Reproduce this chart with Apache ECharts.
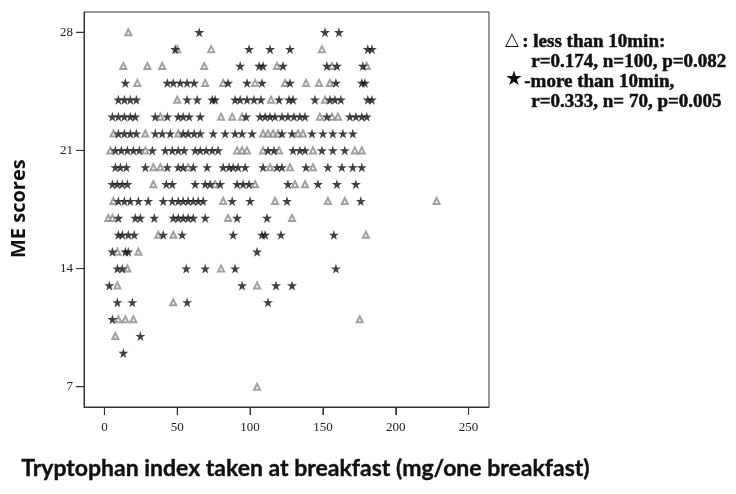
<!DOCTYPE html>
<html>
<head>
<meta charset="utf-8">
<script src="https://cdn.jsdelivr.net/npm/echarts@6.0.0/dist/echarts.min.js"></script>
<style>
  html, body { margin: 0; padding: 0; background: #fff; }
  #chart { width: 736px; height: 494px; }
</style>
</head>
<body>
<div id="chart"></div>
<script type="text/javascript">
// tryptophan index (x) per ME score (row)
var lessRows = [
    [28, [16.4]],
    [27, [50, 73.3, 149.3]],
    [26, [13, 29.5, 39.7, 68.5, 118.5, 156.2, 180.1]],
    [25, [22.6, 69.2, 81.5, 103.4, 124, 138.4, 147.3, 154.8]],
    [24, [50, 114.4, 151.4]],
    [23, [38.4, 80.1, 87.7, 94.5, 147.9, 156.2, 160.3]],
    [22, [6.2, 28.1, 50.7, 108.9, 112.3, 115.8, 119.2, 132.9, 136.3]],
    [21, [4.1, 28.1, 91.1, 94.5, 97.9, 108.9, 119.9, 143.2, 171.9, 176.7]],
    [20, [33.6, 38.4, 57.5, 113.7, 127.4, 143.2]],
    [19, [33.6, 76, 103.4, 130.8, 137.7]],
    [18, [6.2, 81.5, 117.1, 153.4, 165, 228]],
    [17, [2.7, 5.5, 84.9, 128.8]],
    [16, [37, 47.3, 179.5]],
    [15, [8.9, 23.3]],
    [14, [15.8, 80.1]],
    [13, [8.9, 104.8]],
    [12, [47.3]],
    [11, [9.6, 14.4, 19.9, 175.3]],
    [10, [7.5]],
    [7, [104.8]]
];
var moreRows = [
    [28, [65.1, 151.4, 161]],
    [27, [48.6, 99.3, 113.7, 127.4, 180.8, 183.6]],
    [26, [93.2, 106.2, 108.9, 122.6, 152.7, 159.6, 177.4]],
    [25, [14.4, 43.2, 47.3, 52.1, 56.8, 61.6, 84.9, 97.9, 108.2, 127.4, 158.9, 176.7, 178.8]],
    [24, [9.6, 13.7, 17.8, 21.9, 56.8, 63.7, 74, 76, 89.7, 93.2, 97.9, 102.7, 107.5, 119.9, 126.7, 129.5, 144.5, 154.8, 158.2, 162.3, 180.8, 183.6]],
    [23, [5.5, 9.6, 13.7, 17.8, 21.2, 34.9, 43.2, 50.7, 54.1, 58.2, 65.8, 97.3, 106.8, 110.3, 113.7, 117.1, 121.9, 126, 130.1, 134.2, 137.7, 152.7, 168.5, 172.6, 176.7, 180.1]],
    [22, [9.6, 13.7, 17.8, 21.9, 34.9, 39.7, 45.2, 54.1, 57.5, 61.6, 65.8, 74.7, 82.9, 89.7, 94.5, 101.4, 121.9, 128.8, 142.5, 150, 156.8, 163.7, 170.5]],
    [21, [7.5, 11.6, 15.8, 19.9, 24, 32.9, 41.8, 46.6, 50.7, 54.8, 62.3, 65.8, 69.9, 74, 78.1, 112.3, 116.4, 129.5, 134.2, 137.7, 149.3, 156.8, 165]],
    [20, [7.5, 11, 15.1, 28.1, 43.2, 50.7, 54.1, 61, 70.5, 81.5, 85.6, 88.4, 91.8, 96.6, 108.9, 118.5, 121.9, 138.4, 153.4, 163, 170.5, 176.7]],
    [19, [5.5, 8.9, 12.3, 15.8, 42.5, 46.6, 62.3, 69.2, 72.6, 79.5, 91.1, 95.2, 99.3, 126, 146.6, 159.6, 172.6]],
    [18, [9.6, 13.7, 17.8, 23.3, 30.1, 40.4, 46.6, 50.7, 54.1, 57.5, 61, 64.4, 67.8, 87.7, 100, 125.3, 176]],
    [17, [9.6, 21.2, 24.7, 34.2, 47.3, 50.7, 54.1, 57.5, 61, 69.2, 91.1, 111.6]],
    [16, [9.6, 12.3, 16.4, 20.5, 40.4, 53.4, 88.4, 108.2, 110.3, 121.2, 157.5]],
    [15, [5.5, 14.4, 16.4, 104.8]],
    [14, [8.9, 12.3, 56.2, 69.2, 89.7, 158.9]],
    [13, [3.4, 94.5, 117.8, 128.8]],
    [12, [8.9, 19.2, 56.8, 112.3]],
    [11, [5.5]],
    [10, [24.7]],
    [9, [13]]
];
var xTicks = [0, 50, 100, 150, 200, 250];
var yTicks = [7, 14, 21, 28];
var legendLines = [
    ': less than 10min:',
    'r=0.174, n=100, p=0.082',
    '-more than 10min,',
    'r=0.333, n= 70, p=0.005'
];

var xMin = -14, xMax = 264, yMin = 5.8, yMax = 29.2;

var toPoints = function(rows) {
    var pts = [];
    for (var i = 0; i < rows.length; i++) {
        var xs = rows[i][1];
        for (var j = 0; j < xs.length; j++) {
            pts.push([xs[j], rows[i][0]]);
        }
    }
    return pts;
};

// tick marks: [x, y, direction] -> 0 = x-axis tick, 1 = y-axis tick
var tickData = [];
for (var i = 0; i < xTicks.length; i++) tickData.push([xTicks[i], yMin, 0]);
for (var k = 0; k < yTicks.length; k++) tickData.push([xMin, yTicks[k], 1]);

var starPath = 'path://M50,0 L61,35 L98,35 L68,57 L79,91 L50,70 L21,91 L32,57 L2,35 L39,35 Z';
var legendFont = 'bold 19px "Liberation Serif"';
var legendStyle = function(txt) {
    return { text: txt, font: legendFont, fill: '#111', stroke: '#111', lineWidth: 0.5 };
};

var option = {
    grid: {
        left: 84, top: 12, right: 247, bottom: 87,
        show: true, borderColor: '#333', borderWidth: 1
    },
    xAxis: {
        type: 'value',
        min: xMin, max: xMax,
        splitLine: { show: false },
        axisLine: { show: true, onZero: false, lineStyle: { color: '#333' } },
        axisTick: { show: true, length: 8, lineStyle: { color: '#333' }, customValues: xTicks },
        axisLabel: { margin: 14, customValues: xTicks, fontFamily: 'Liberation Serif', fontSize: 13, color: '#222' }
    },
    yAxis: {
        type: 'value',
        min: yMin, max: yMax,
        splitLine: { show: false },
        axisLine: { show: true, onZero: false, lineStyle: { color: '#333' } },
        axisTick: { show: true, length: 8, lineStyle: { color: '#333' }, customValues: yTicks },
        axisLabel: { margin: 11, customValues: yTicks, fontFamily: 'Liberation Serif', fontSize: 13, color: '#222' }
    },
    graphic: [
        { type: 'text', left: 21, top: 457,
          style: { text: 'Tryptophan index taken at breakfast (mg/one breakfast)', font: 'bold 23px Lato', fill: '#111', stroke: '#111', lineWidth: 0.4 } },
        { type: 'text', x: 9, y: 258, rotation: Math.PI / 2,
          style: { text: 'ME scores', font: 'bold 20px "Open Sans"', fill: '#111' } },
        { type: 'text', left: 505, top: 31,
          style: { text: '\u25B3', font: '18px "DejaVu Sans"', fill: '#111' } },
        { type: 'text', left: 522, top: 32, style: legendStyle(legendLines[0]) },
        { type: 'text', left: 531, top: 52, style: legendStyle(legendLines[1]) },
        { type: 'text', left: 505, top: 70,
          style: { text: '\u2605', font: '20px "DejaVu Sans"', fill: '#111' } },
        { type: 'text', left: 524, top: 72, style: legendStyle(legendLines[2]) },
        { type: 'text', left: 531, top: 92, style: legendStyle(legendLines[3]) }
    ],
    series: [
        {
            name: 'less than 10min',
            type: 'scatter',
            symbol: 'emptyTriangle',
            symbolSize: 6,
            itemStyle: { color: '#8a8a8a', borderWidth: 1 },
            data: toPoints(lessRows)
        },
        {
            name: 'more than 10min',
            type: 'scatter',
            symbol: starPath,
            symbolSize: 10,
            itemStyle: { color: '#111' },
            data: toPoints(moreRows)
        },
        {
            name: 'ticks',
            type: 'custom',
            silent: true,
            clip: false,
            renderItem: function(params, api) {
                var p = api.coord([api.value(0), api.value(1)]);
                var vertical = api.value(2) === 0;
                return {
                    type: 'line',
                    shape: vertical
                        ? { x1: p[0], y1: p[1], x2: p[0], y2: p[1] + 8 }
                        : { x1: p[0] - 8, y1: p[1], x2: p[0], y2: p[1] },
                    style: { stroke: '#333', lineWidth: 1 }
                };
            },
            data: tickData
        }
    ]
};

var charts = echarts.init(document.getElementById('chart'));
charts.setOption(option);
</script>
</body>
</html>
